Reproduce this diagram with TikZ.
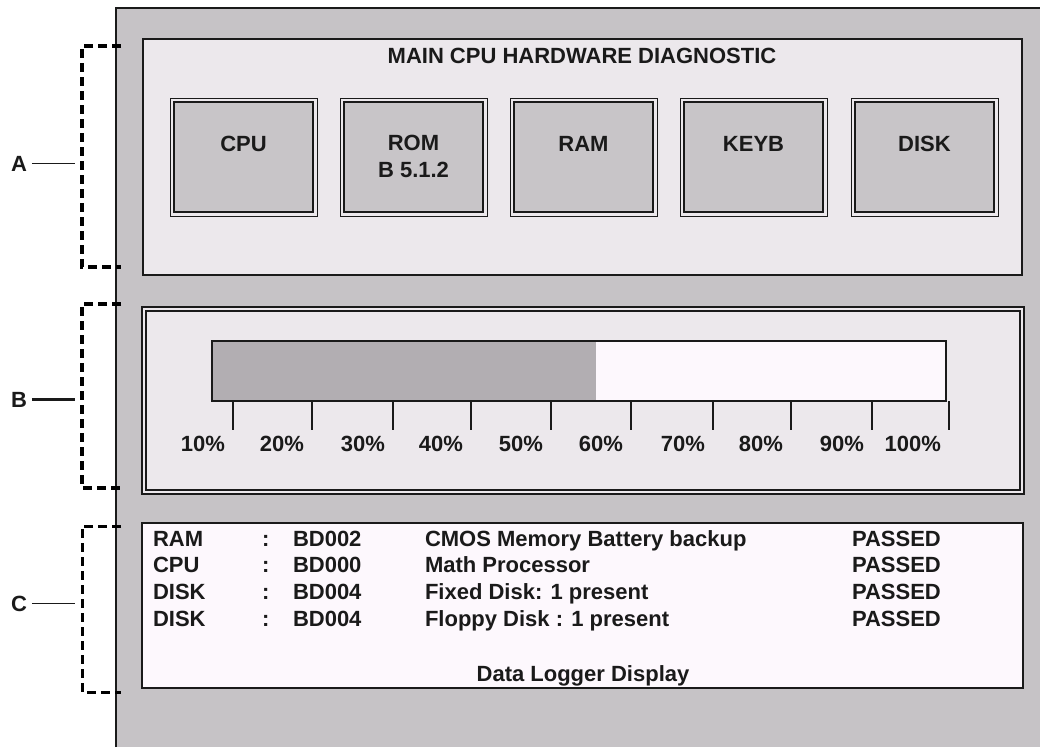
\documentclass[tikz,border=0pt]{standalone}
\usepackage{fontspec}
\setmainfont{Liberation Sans}
\definecolor{panelgrey}{HTML}{C6C3C6}
\definecolor{lightpanel}{HTML}{ECE8EC}
\definecolor{tilegrey}{HTML}{C8C5C8}
\definecolor{barfill}{HTML}{B2AEB2}
\definecolor{paper}{HTML}{FDF8FD}
\definecolor{ink}{HTML}{1A1A1A}
\begin{document}
\begin{tikzpicture}[x=1pt,y=-1pt,
  every node/.style={font=\fontsize{22}{26}\selectfont\bfseries, inner sep=0pt, outer sep=0pt, text=ink},
  panel/.style={draw=ink, line width=1.4pt, fill=lightpanel, anchor=north west},
  tile/.style={draw=ink, line width=2pt, fill=tilegrey, minimum width=139, minimum height=110},
  tileframe/.style={draw=ink, line width=0.9pt},
  txt/.style={anchor=base west},
  ctxt/.style={anchor=base},
  pct/.style={anchor=base east},
  bracket/.style={draw=black, line width=3.6pt, dash pattern=on 9pt off 5pt},
  tick/.style={draw=ink, line width=1.3pt}]

\useasboundingbox (0,0) rectangle (1040,747);
\fill[white] (0,0) rectangle (1040,747);

% outer console area
\fill[panelgrey] (116,8) rectangle (1040,747);
\draw[ink, line width=1.5pt] (116,747) -- (116,8) -- (1040,8);

% --- section A: hardware diagnostic tiles
\node[panel, minimum width=879, minimum height=236] (panA) at (143,39) {};
\node[ctxt] (title) at (582,63) {MAIN CPU HARDWARE DIAGNOSTIC};

\foreach \nm/\cx in {cpu/243.5, rom/413.5, ram/583.5, keyb/753.5, disk/924.5}{
  \node[tile] (\nm) at (\cx,157) {};
  \draw[tileframe] ([shift={(-4pt,4pt)}]\nm.north west) rectangle ([shift={(4pt,-4pt)}]\nm.south east);
}
\node[ctxt] (cpuL)  at (243.5,151) {CPU};
\node[ctxt] (romL)  at (413.5,150) {ROM};
\node[ctxt] (romV)  at (413.5,177) {B 5.1.2};
\node[ctxt] (ramL)  at (583.5,151) {RAM};
\node[ctxt] (keybL) at (753.5,151) {KEYB};
\node[ctxt] (diskL) at (924.5,151) {DISK};

% --- section B: progress bar
\node[panel, line width=1.2pt, minimum width=882, minimum height=187] (panB) at (142,307) {};
\draw[ink, line width=1.2pt] (146,311) rectangle (1020,490);
\node[draw=ink, line width=1.4pt, fill=paper, anchor=north west, minimum width=734, minimum height=60] (bar) at (212,341) {};
\fill[barfill] ([shift={(0.7pt,-0.7pt)}]bar.north west) rectangle (596,400.3);
\draw[ink, line width=1.4pt] (bar.north west) rectangle (bar.south east);

\foreach \tx/\lab in {233/10\%, 312/20\%, 393/30\%, 471/40\%, 551/50\%, 631/60\%, 713/70\%, 791/80\%, 872/90\%, 949/100\%}{
  \draw[tick] (\tx,401) -- (\tx,430);
  \node[pct] at (\tx-8,451) {\lab};
}

% --- section C: data logger
\node[panel, fill=paper, minimum width=881, minimum height=165] (panC) at (142,523) {};
\foreach \y/\dev/\code/\desc [count=\i] in {546/RAM/BD002/CMOS Memory Battery backup,
    572/CPU/BD000/Math Processor,
    599/DISK/BD004/Fixed Disk: 1 present,
    626/DISK/BD004/Floppy Disk : 1 present}{
  \node[txt] (dev\i)  at (153,\y) {\dev};
  \node[txt] (sep\i)  at (262,\y) {:};
  \node[txt] (code\i) at (293,\y) {\code};
  \node[txt] (desc\i) at (425,\y) {\desc};
  \node[txt] (res\i)  at (852,\y) {PASSED};
}
\node[ctxt] (logger) at (583,681) {Data Logger Display};

% --- section markers
\draw[bracket] (121,46) -- (82,46) -- (82,267) -- (121,267);
\draw[bracket] (121,304) -- (82,304) -- (82,488) -- (121,488);
\draw[bracket, line width=3pt] (121,526) -- (82,526) -- (82,692) -- (121,692);

\node[ctxt] (labA) at (19,171) {A};
\node[ctxt] (labB) at (19,407) {B};
\node[ctxt] (labC) at (19,611) {C};
\coordinate (tipA) at (75,159);
\coordinate (tipB) at (75,398);
\coordinate (tipC) at (75,601);
\draw[ink, line width=1pt, shorten <=5pt] (labA.east) -- (labA.east -| tipA);
\draw[ink, line width=2.2pt, shorten <=5pt] (labB.east) -- (labB.east -| tipB);
\draw[ink, line width=1pt, shorten <=5pt] (labC.east) -- (labC.east -| tipC);
\end{tikzpicture}
\end{document}
